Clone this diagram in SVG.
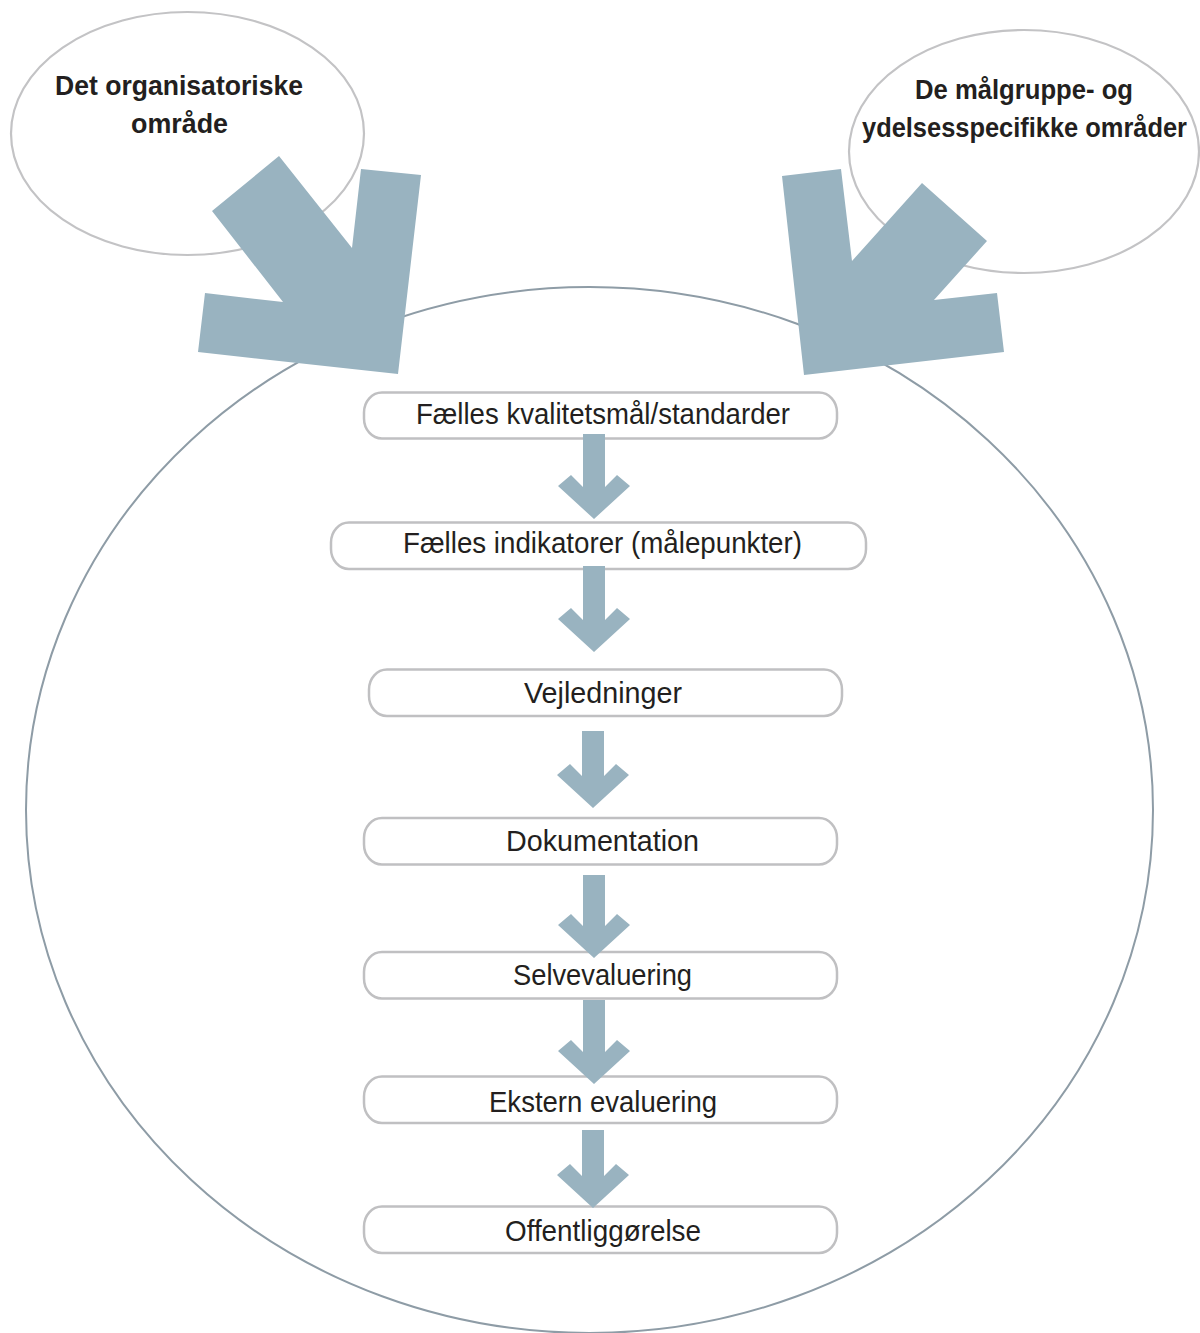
<svg xmlns="http://www.w3.org/2000/svg" width="1200" height="1333" viewBox="0 0 1200 1333">
<style>
.bg{fill:#ffffff}
.src{fill:#ffffff;stroke:#c3c3c5;stroke-width:2.2}
.big{fill:none;stroke:#8e9ca6;stroke-width:2}
.box{fill:#ffffff;stroke:#c0c0c2;stroke-width:2.5}
.arr{fill:#99b3c0}
.t{font-family:"Liberation Sans",Arial,sans-serif;font-size:29px;fill:#231f20;text-anchor:middle}
.h{font-family:"Liberation Sans",Arial,sans-serif;font-size:27.5px;font-weight:bold;fill:#231f20;text-anchor:middle}
</style>
<rect class="bg" x="0" y="0" width="1200" height="1333"/>
<g id="org-area">
<ellipse class="src" cx="187.5" cy="133.5" rx="176.5" ry="121.5"/>
<text class="h" x="179" y="95" textLength="248" lengthAdjust="spacingAndGlyphs">Det organisatoriske</text>
<text class="h" x="179.5" y="133" textLength="97" lengthAdjust="spacingAndGlyphs">område</text>
</g>
<g id="target-area">
<ellipse class="src" cx="1024" cy="151.5" rx="175" ry="121.5"/>
<text class="h" x="1024" y="99" textLength="218" lengthAdjust="spacingAndGlyphs">De målgruppe- og</text>
<text class="h" x="1024.5" y="137" textLength="325" lengthAdjust="spacingAndGlyphs">ydelsesspecifikke områder</text>
</g>
<g id="scope">
<ellipse class="big" cx="589.5" cy="810" rx="563.5" ry="523"/>
</g>
<g id="connectors">
<polygon class="arr" points="279,156 212,211 283,302 205,293 198,352 398,374 421,175 361,169 352,248"/>
<polygon class="arr" points="782,176 804,375 1004,352 997,293 934,300 987,241 922,183 852,261 841,169"/>
</g>
<g id="n1"><rect class="box" x="364" y="392.5" width="473" height="46" rx="18" ry="20"/>
<text class="t" x="603" y="424" textLength="374" lengthAdjust="spacingAndGlyphs">Fælles kvalitetsmål/standarder</text></g>
<g id="n2"><rect class="box" x="331" y="522.5" width="535" height="46.5" rx="18" ry="20"/>
<text class="t" x="602.5" y="553" textLength="399" lengthAdjust="spacingAndGlyphs">Fælles indikatorer (målepunkter)</text></g>
<g id="n3"><rect class="box" x="369" y="669.5" width="473" height="46.5" rx="18" ry="20"/>
<text class="t" x="603" y="703" textLength="158" lengthAdjust="spacingAndGlyphs">Vejledninger</text></g>
<g id="n4"><rect class="box" x="364" y="818" width="473" height="46.5" rx="18" ry="20"/>
<text class="t" x="602.5" y="851" textLength="193" lengthAdjust="spacingAndGlyphs">Dokumentation</text></g>
<g id="n5"><rect class="box" x="364" y="952" width="473" height="46.5" rx="18" ry="20"/>
<text class="t" x="602.5" y="985" textLength="179" lengthAdjust="spacingAndGlyphs">Selvevaluering</text></g>
<g id="n6"><rect class="box" x="364" y="1076.5" width="473" height="46.5" rx="18" ry="20"/>
<text class="t" x="603" y="1112" textLength="228" lengthAdjust="spacingAndGlyphs">Ekstern evaluering</text></g>
<g id="n7"><rect class="box" x="364" y="1206.5" width="473" height="46.5" rx="18" ry="20"/>
<text class="t" x="603" y="1241" textLength="196" lengthAdjust="spacingAndGlyphs">Offentliggørelse</text></g>
<g id="flow-arrows">
<polygon class="arr" points="583,434 605,434 605,487 617,475 630,486 594,519 558,486 571,475 583,487"/>
<polygon class="arr" points="583,566 605,566 605,620 617,608 630,619 594,652 558,619 571,608 583,620"/>
<polygon class="arr" points="582,731 604,731 604,776 616,764 629,775 593,808 557,775 570,764 582,776"/>
<polygon class="arr" points="583,875 605,875 605,926 617,914 630,925 594,958 558,925 571,914 583,926"/>
<polygon class="arr" points="583,1000 605,1000 605,1052 617,1040 630,1051 594,1084 558,1051 571,1040 583,1052"/>
<polygon class="arr" points="582,1130 604,1130 604,1176 616,1164 629,1175 593,1208 557,1175 570,1164 582,1176"/>
</g>
</svg>
